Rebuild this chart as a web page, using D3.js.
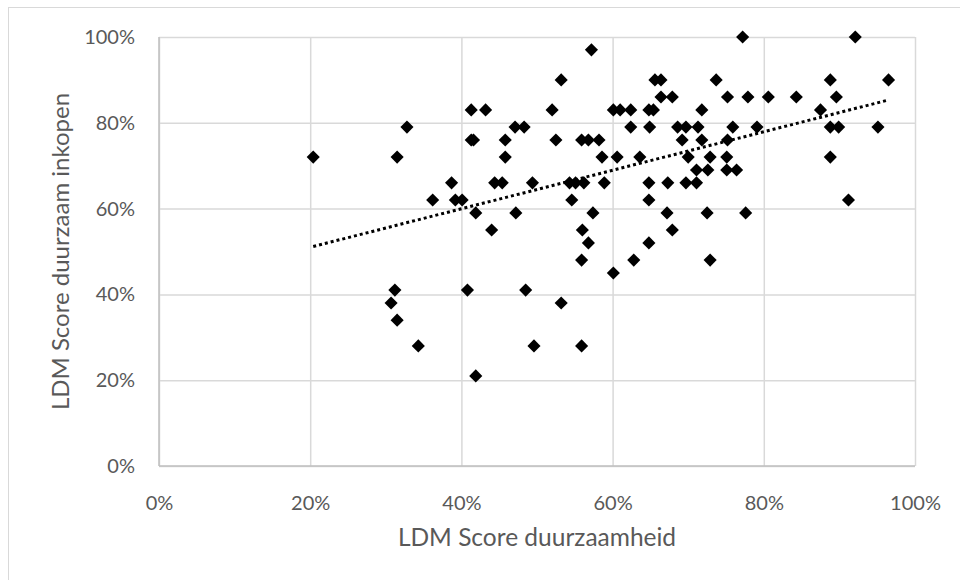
<!DOCTYPE html>
<html>
<head>
<meta charset="utf-8">
<script src="https://cdn.jsdelivr.net/npm/d3@7"></script>
<style>
  body { margin: 0; background: #fff; }
  text { font-family: Lato, "Noto Sans", sans-serif; fill: #595959; }
</style>
</head>
<body>
<script>
//scores, in percent
var duurzaamheid = [
    20.4, 31.5, 32.8, 57.2, 53.2, 41.3, 43.2, 52.0, 60.1, 61.0,
    62.4, 64.8, 65.4, 65.6, 66.4, 66.4, 67.9, 47.1, 48.3, 62.4,
    64.9, 41.3, 41.6, 45.8, 52.5, 55.9, 56.8, 58.2, 45.8, 58.6,
    60.6, 63.6, 38.7, 44.4, 45.4, 49.4, 54.3, 55.1, 56.2, 58.9,
    64.8, 36.2, 39.2, 40.1, 54.6, 64.8, 41.9, 47.2, 57.4, 44.0,
    56.0, 56.8, 64.8, 77.2, 92.1, 73.7, 88.8, 96.5, 75.2, 77.9,
    80.6, 84.3, 89.6, 71.8, 87.5, 68.6, 69.7, 71.3, 75.9, 79.1,
    88.8, 89.9, 95.1, 69.2, 71.8, 75.2, 70.0, 72.9, 75.1, 88.8,
    71.1, 72.6, 75.1, 76.4, 67.3, 69.7, 71.1, 91.2, 67.2, 72.5,
    77.6, 67.9, 55.9, 60.1, 62.8, 72.9, 31.2, 30.7, 31.5, 34.3,
    40.8, 48.5, 53.2, 49.6, 55.9, 41.9
];
var inkopen = [
    72, 72, 79, 97, 90, 83, 83, 83, 83, 83,
    83, 83, 83, 90, 90, 86, 86, 79, 79, 79,
    79, 76, 76, 76, 76, 76, 76, 76, 72, 72,
    72, 72, 66, 66, 66, 66, 66, 66, 66, 66,
    66, 62, 62, 62, 62, 62, 59, 59, 59, 55,
    55, 52, 52, 100, 100, 90, 90, 90, 86, 86,
    86, 86, 86, 83, 83, 79, 79, 79, 79, 79,
    79, 79, 79, 76, 76, 76, 72, 72, 72, 72,
    69, 69, 69, 69, 66, 66, 66, 62, 59, 59,
    59, 55, 48, 45, 48, 48, 41, 38, 34, 28,
    41, 41, 38, 28, 28, 21
];
var tickValues = [0, 20, 40, 60, 80, 100];

var width = 960,
    height = 580,
    plotLeft = 159,
    plotRight = 915,
    plotTop = 37,
    plotBottom = 466;

var svg = d3.select("body")
    .append("svg")
    .attr("width", width)
    .attr("height", height);

//outer chart border
svg.append("rect")
    .attr("x", 8.5)
    .attr("y", 7.5)
    .attr("width", width)
    .attr("height", height)
    .attr("fill", "none")
    .attr("stroke", "#d9d9d9");

var x = d3.scaleLinear().domain([0, 100]).range([plotLeft, plotRight]);
var y = d3.scaleLinear().domain([0, 100]).range([plotBottom, plotTop]);

var fmt = function (d) { return d + "%"; };

//gridlines
svg.append("g")
    .attr("transform", "translate(0," + plotBottom + ")")
    .call(d3.axisBottom(x).tickValues(tickValues).tickSize(-(plotBottom - plotTop)).tickFormat(""))
    .call(function (g) {
        g.select(".domain").remove();
        g.selectAll("line").attr("stroke", "#d9d9d9").attr("stroke-width", 1.5);
    });
svg.append("g")
    .attr("transform", "translate(" + plotLeft + ",0)")
    .call(d3.axisLeft(y).tickValues(tickValues).tickSize(-(plotRight - plotLeft)).tickFormat(""))
    .call(function (g) {
        g.select(".domain").remove();
        g.selectAll("line").attr("stroke", "#d9d9d9").attr("stroke-width", 1.5);
    });

//axis lines
svg.append("line")
    .attr("x1", plotLeft).attr("x2", plotRight)
    .attr("y1", plotBottom).attr("y2", plotBottom)
    .attr("stroke", "#bfbfbf").attr("stroke-width", 1.5);
svg.append("line")
    .attr("x1", plotLeft).attr("x2", plotLeft)
    .attr("y1", plotTop).attr("y2", plotBottom)
    .attr("stroke", "#bfbfbf").attr("stroke-width", 1.5);

//tick labels
svg.append("g")
    .attr("transform", "translate(0," + plotBottom + ")")
    .call(d3.axisBottom(x).tickValues(tickValues).tickSize(0).tickPadding(30).tickFormat(fmt))
    .call(function (g) {
        g.select(".domain").remove();
        g.selectAll("text").attr("font-size", 20).attr("fill", "#595959")
            .style("font-family", "Lato, sans-serif");
    });
svg.append("g")
    .attr("transform", "translate(" + plotLeft + ",0)")
    .call(d3.axisLeft(y).tickValues(tickValues).tickSize(0).tickPadding(24).tickFormat(fmt))
    .call(function (g) {
        g.select(".domain").remove();
        g.selectAll("text").attr("font-size", 20).attr("fill", "#595959")
            .style("font-family", "Lato, sans-serif");
    });

//axis titles
svg.append("text")
    .attr("x", (plotLeft + plotRight) / 2)
    .attr("y", 546)
    .attr("text-anchor", "middle")
    .attr("font-size", 24.5)
    .text("LDM Score duurzaamheid");
svg.append("text")
    .attr("transform", "translate(69," + (plotTop + plotBottom) / 2 + ") rotate(-90)")
    .attr("text-anchor", "middle")
    .attr("font-size", 24)
    .text("LDM Score duurzaam inkopen");

//linear trendline over the data range
var n = duurzaamheid.length,
    mx = d3.mean(duurzaamheid),
    my = d3.mean(inkopen),
    sxy = 0, sxx = 0;
for (var i = 0; i < n; i++) {
    sxy += (duurzaamheid[i] - mx) * (inkopen[i] - my);
    sxx += (duurzaamheid[i] - mx) * (duurzaamheid[i] - mx);
}
var slope = sxy / sxx,
    intercept = my - slope * mx;
var xExtent = d3.extent(duurzaamheid);

svg.append("line")
    .attr("x1", x(xExtent[0]))
    .attr("y1", y(intercept + slope * xExtent[0]))
    .attr("x2", x(xExtent[1]))
    .attr("y2", y(intercept + slope * xExtent[1]))
    .attr("stroke", "#000")
    .attr("stroke-width", 3)
    .attr("stroke-dasharray", "3,3");

//diamond markers
var diamond = d3.symbol().type(d3.symbolSquare).size(86);
svg.selectAll(".point")
    .data(d3.range(n))
    .enter()
    .append("path")
    .attr("class", "point")
    .attr("d", diamond)
    .attr("transform", function (i) {
        return "translate(" + x(duurzaamheid[i]) + "," + y(inkopen[i]) + ") rotate(45)";
    })
    .attr("fill", "#000");
</script>
</body>
</html>
